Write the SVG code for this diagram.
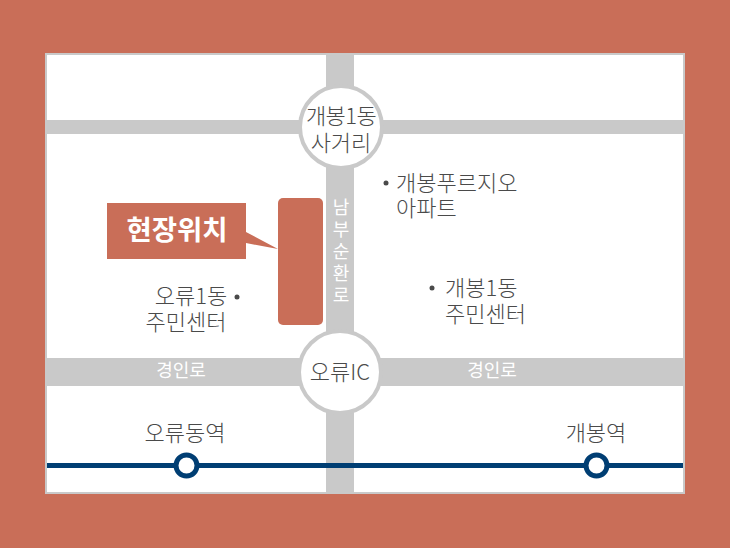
<svg xmlns="http://www.w3.org/2000/svg" width="730" height="548" viewBox="0 0 730 548">
<style>
text{font-family:"Noto Sans CJK KR","Noto Sans",sans-serif;fill:#4a4a4a;font-size:22px;font-weight:300;text-anchor:middle}
.s{text-anchor:start}
.r{font-size:18px;fill:#fff;font-weight:400}
.c{letter-spacing:-.6px}
.road{fill:#c9c9c9}
.circ{fill:#fff;stroke:#c9c9c9;stroke-width:4}
.st{fill:#fff;stroke:#003e73;stroke-width:5}
</style>
<rect width="730" height="548" fill="#c96e58"/>
<rect x="46" y="54" width="638" height="439" fill="#fff" stroke="#c9c9c9" stroke-width="2"/>
<g id="connectors">
<rect class="road" x="326" y="55" width="28" height="437"/>
<rect class="road" x="47" y="120" width="636" height="14"/>
<rect class="road" x="47" y="358" width="636" height="28"/>
<line x1="47" y1="465.500" x2="683" y2="465.500" stroke="#003e73" stroke-width="5"/>
</g>
<g id="node-gaebong1-crossing">
<circle class="circ" cx="341" cy="127" r="41"/>
<text class="c" x="341" y="124">개봉1동</text>
<text x="341" y="151">사거리</text>
</g>
<g id="node-oryu-ic">
<circle class="circ" cx="340" cy="372" r="41"/>
<text x="340" y="380">오류IC</text>
</g>
<g id="node-site">
<rect x="278" y="198" width="45" height="127" rx="5" fill="#c96e58"/>
<path d="M107 203H246V232L278 249L246 243V259H107Z" fill="#c96e58"/>
<text x="177" y="240" style="fill:#fff;font-size:27.500px;font-weight:700">현장위치</text>
</g>
<g id="road-labels">
<text class="r" x="341" y="214">남</text>
<text class="r" x="341" y="236">부</text>
<text class="r" x="341" y="258">순</text>
<text class="r" x="341" y="280">환</text>
<text class="r" x="341" y="302">로</text>
<text class="r" x="181" y="377">경인로</text>
<text class="r" x="492" y="377">경인로</text>
</g>
<g id="node-apt">
<circle cx="386" cy="183" r="2.500" fill="#4a4a4a"/>
<text class="s" x="396" y="191">개봉푸르지오</text>
<text class="s" x="396" y="216">아파트</text>
</g>
<g id="node-gaebong-center">
<circle cx="432" cy="288" r="2.500" fill="#4a4a4a"/>
<text class="s" x="445" y="296">개봉1동</text>
<text class="s" x="445" y="322">주민센터</text>
</g>
<g id="node-oryu-center">
<circle cx="237" cy="297" r="2.500" fill="#4a4a4a"/>
<text x="191" y="304">오류1동</text>
<text x="186" y="330">주민센터</text>
</g>
<g id="node-oryu-station">
<text x="185" y="441">오류동역</text>
<circle class="st" cx="186.500" cy="465.500" r="10.500"/>
</g>
<g id="node-gaebong-station">
<text x="596" y="441">개봉역</text>
<circle class="st" cx="596.500" cy="465.500" r="10.500"/>
</g>
</svg>
